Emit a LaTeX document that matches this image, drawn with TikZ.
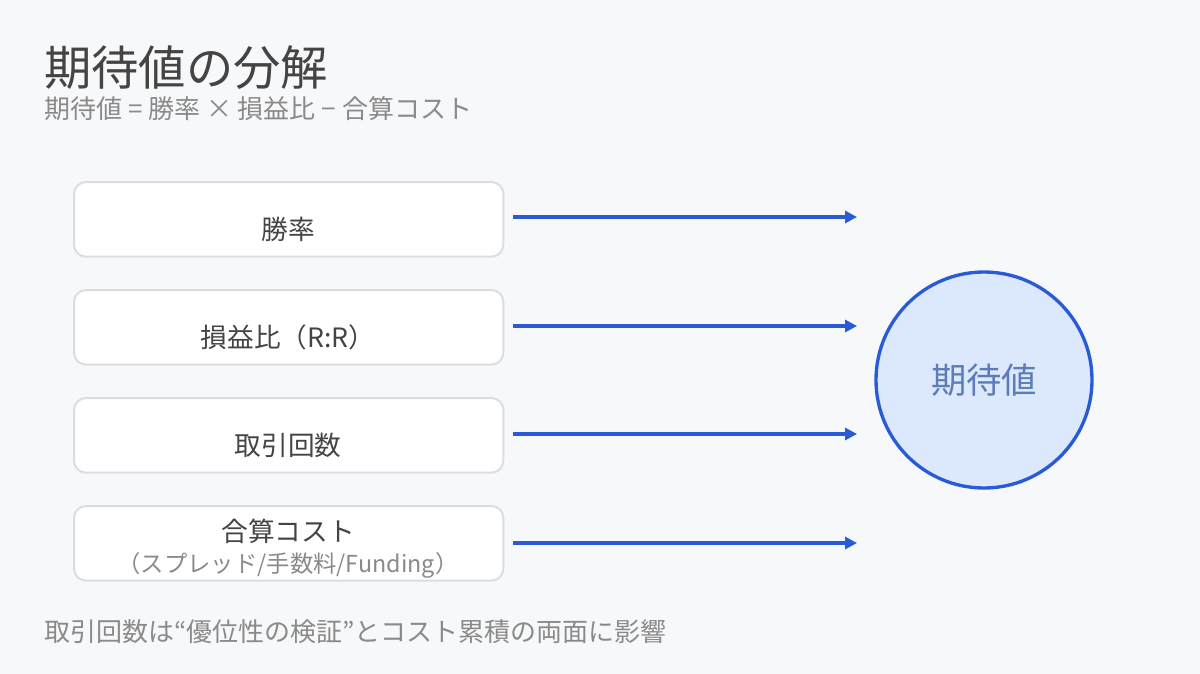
\documentclass[tikz,border=0pt]{standalone}
\usepackage{fontspec}
\setmainfont{Noto Sans CJK JP}
\usetikzlibrary{arrows.meta}
\definecolor{bg}{HTML}{F7F8FA}
\definecolor{boxline}{HTML}{DADDE2}
\definecolor{txt}{HTML}{444444}
\definecolor{sub}{HTML}{8A8A8A}
\definecolor{arr}{HTML}{2A5BD7}
\definecolor{cfill}{HTML}{DCE8FB}
\definecolor{ctxt}{HTML}{5D7DB8}
\tikzset{
  factor/.style={draw=boxline,line width=1.5pt,fill=white,rounded corners=9pt,minimum width=322pt,minimum height=56pt,anchor=north west},
  lab/.style={text=txt,font=\fontsize{20}{24}\selectfont},
  flow/.style={draw=arr,line width=3pt,-{Triangle[length=9pt,width=9pt]}}
}
\begin{document}
\begin{tikzpicture}[x=0.75pt,y=-0.75pt]
\fill[bg] (0,0) rectangle (1200,674);
\useasboundingbox (0,0) rectangle (1200,674);
\node[anchor=base west,inner sep=0,text=txt,font=\fontsize{35.5}{40}\selectfont] (title) at (44,86) {期待値の分解};
\node[anchor=base west,inner sep=0,text=sub,font=\fontsize{19.5}{23}\selectfont] (subt) at (44,118) {期待値 = 勝率 × 損益比 − 合算コスト};
\foreach \n/\y in {a/181,b/289,c/397,d/505}{
  \node[factor] (\n) at (73,\y) {};
}
\node[lab] (la) at (288,229) {勝率};
\node[lab] (lb) at (288,337) {損益比（R:R）};
\node[lab] (lc) at (288,445) {取引回数};
\node[lab] (ld) at (288,531) {合算コスト};
\node[text=sub,font=\fontsize{17.5}{20}\selectfont] (ld2) at (288,565) {（スプレッド/手数料/Funding）};
\node[circle,draw=arr,line width=2.5pt,fill=cfill,minimum size=162pt,text=ctxt,font=\fontsize{26.5}{30}\selectfont] (ev) at (984,380) {期待値};
\foreach \n/\y in {a/217,b/326,c/434,d/543}{
  \coordinate (s\n) at (513,\y);
  \coordinate (e\n) at (857,\y);
  \draw[flow] (s\n) -- (e\n);
}
\node[anchor=base west,inner sep=0,text=sub,font=\fontsize{19.5}{23}\selectfont] (foot) at (44,641) {取引回数は“優位性の検証”とコスト累積の両面に影響};
\end{tikzpicture}
\end{document}
